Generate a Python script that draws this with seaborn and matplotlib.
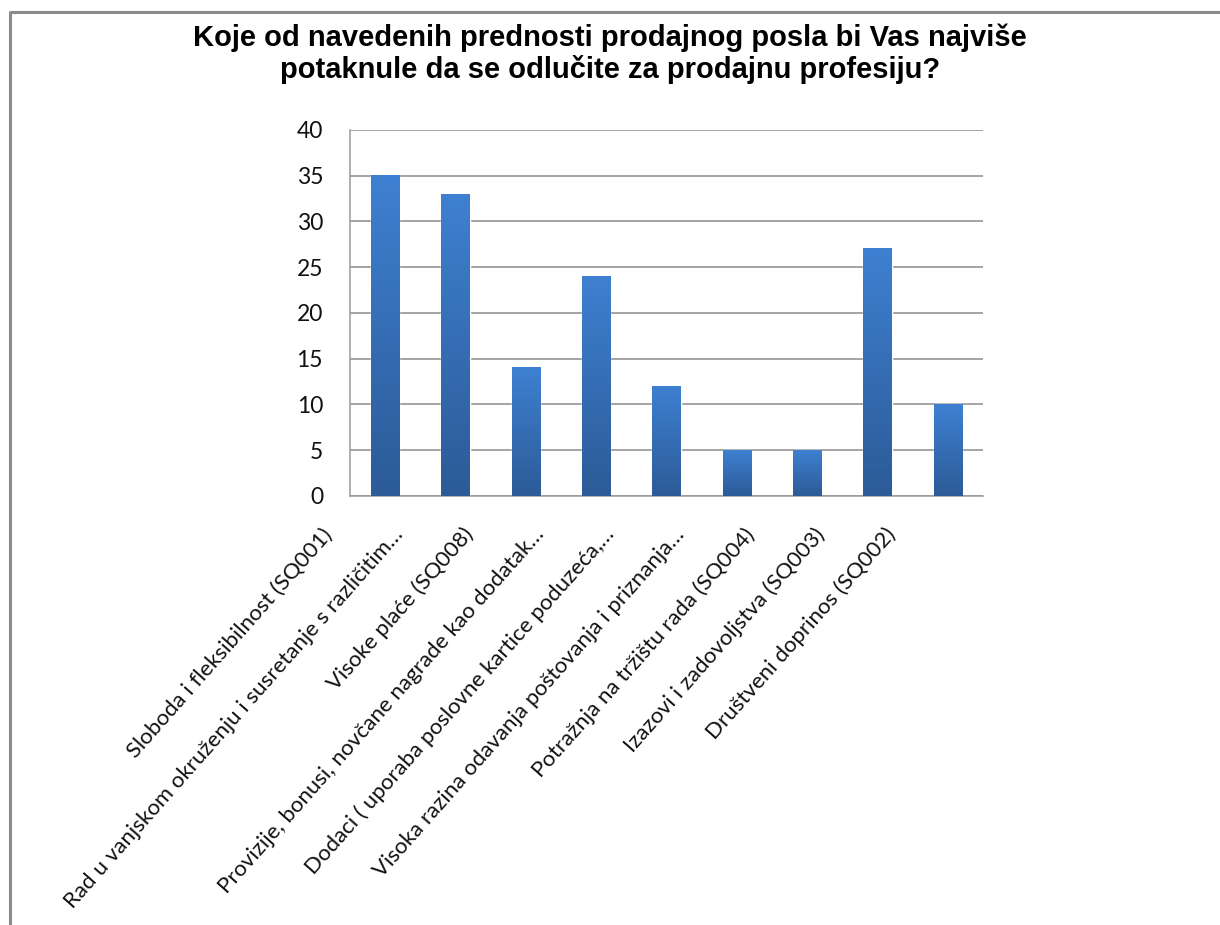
import numpy as np
import pandas as pd
import matplotlib
matplotlib.use("Agg")
import matplotlib.pyplot as plt
import seaborn as sns
from matplotlib.transforms import ScaledTranslation, blended_transform_factory
from matplotlib.colors import LinearSegmentedColormap
from matplotlib.lines import Line2D

categories = [
    "Sloboda i fleksibilnost (SQ001)",
    "Rad u vanjskom okruženju i susretanje s različitim…",
    "Visoke plaće (SQ008)",
    "Provizije, bonusi, novčane nagrade kao dodatak…",
    "Dodaci ( uporaba poslovne kartice poduzeća,…",
    "Visoka razina odavanja poštovanja i priznanja…",
    "Potražnja na tržištu rada (SQ004)",
    "Izazovi i zadovoljstva (SQ003)",
    "Društveni doprinos (SQ002)",
]
values = [35, 33, 14, 24, 12, 5, 5, 27, 10]
y_ticks = [0, 5, 10, 15, 20, 25, 30, 35, 40]
title = ("Koje od navedenih prednosti prodajnog posla bi Vas najviše\n"
         "potaknule da se odlučite za prodajnu profesiju?")

sns.set_theme(style="white")
plt.rcParams['font.family'] = ['Lato', 'DejaVu Sans']

W, H = 1220, 925
fig = plt.figure(figsize=(W / 100, H / 100), dpi=100)
fig.patch.set_facecolor("white")
ax = fig.add_axes([350 / W, 1 - 496 / H, (983 - 350) / W, (496 - 130) / H])

df = pd.DataFrame({"cat": categories, "val": values})
sns.barplot(data=df, x="cat", y="val", ax=ax, width=0.4, color="#3670B8",
            saturation=1, zorder=2)

cmap = LinearSegmentedColormap.from_list("g", ["#2C5B97", "#3E80D1"])
grad = np.linspace(0, 1, 256).reshape(-1, 1)
for p in ax.patches:
    x0, w, h = p.get_x(), p.get_width(), p.get_height()
    ax.imshow(grad, extent=(x0, x0 + w, 0, h), origin="lower", cmap=cmap,
              aspect="auto", zorder=3, interpolation="bilinear")

ax.set_xlim(-0.5, len(categories) - 0.5)
ax.set_ylim(0, 40)
ax.set_yticks(y_ticks)
ax.set_yticklabels([str(t) for t in y_ticks])
ax.yaxis.grid(True, color="#8C8C8C", lw=1.1)
ax.xaxis.grid(False)
ax.set_axisbelow(True)
for s in ["top", "right"]:
    ax.spines[s].set_visible(False)
for s in ["left", "bottom"]:
    ax.spines[s].set_color("#9A9A9A")
    ax.spines[s].set_linewidth(1.1)
ax.tick_params(axis="y", length=0, pad=19.4, labelsize=16.5, labelcolor="#111111")
ax.set_xticks(range(len(categories)))
ax.set_xticklabels([])
ax.tick_params(axis="x", length=0)
ax.set_xlabel("")
ax.set_ylabel("")

trans = blended_transform_factory(ax.transData, ax.transAxes) + \
    ScaledTranslation(-0.56, -0.35, fig.dpi_scale_trans)
for i, c in enumerate(categories):
    ax.text(i, 0, c, transform=trans, rotation=48.5, rotation_mode="anchor",
            ha="right", va="center", fontsize=16, color="#111111", clip_on=False)

fig.text(0.5, 1 - 54 / H, title, ha="center", va="center", fontsize=21,
         fontweight="bold", family=["Liberation Sans", "DejaVu Sans"],
         linespacing=1.12, color="black")

fig.add_artist(Line2D([9.5 / W, 9.5 / W, 1.0], [0, 1 - 12 / H, 1 - 12 / H],
                      transform=fig.transFigure, color="#8A8A8A", lw=2.2))

fig.savefig("out.png", dpi=100)
